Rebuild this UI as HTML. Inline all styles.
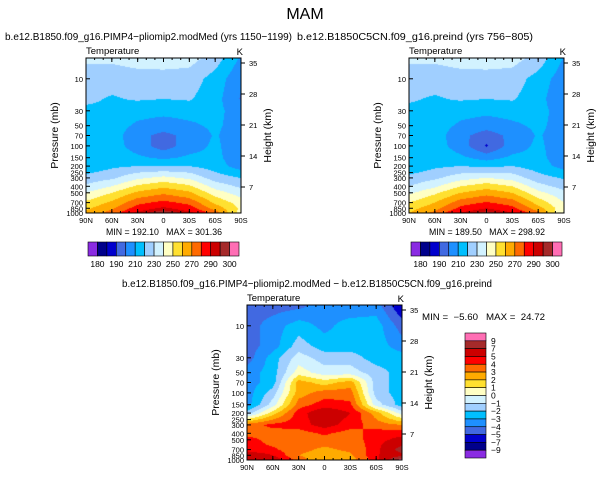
<!DOCTYPE html>
<html><head><meta charset="utf-8">
<style>
body{margin:0;background:#fff;width:611px;height:478px;overflow:hidden;position:relative;font-family:"Liberation Sans",sans-serif}
canvas{position:absolute}
svg{position:absolute;left:0;top:0}
text{white-space:pre}
</style></head>
<body>
<canvas id="c1" width="155" height="155" style="left:86px;top:58px"></canvas>
<canvas id="c2" width="155" height="155" style="left:409px;top:58px"></canvas>
<canvas id="c3" width="155" height="155" style="left:247px;top:305px"></canvas>
<svg id="s" width="611" height="478" font-family="Liberation Sans, sans-serif"></svg>
<script>
const lats = ["90N","60N","30N","0","30S","60S","90S"];
const levels = [5,10,20,30,50,70,100,150,200,300,400,500,700,850,1000];
const pTicks = [10,30,50,70,100,150,200,250,300,400,500,700,850,1000];
const hTicks = [35,28,21,14,7];
const colors = ["#8a2be2","#00008b","#0000cd","#4169e1","#1e90ff","#00bfff","#a0cfff","#d2f2ff","#ffffc4","#ffe030","#ffab00","#ff6a00","#ff0000","#cc0000","#a52a2a","#ff6eb4"];
const boundsT = [180,185,190,200,210,220,230,240,250,260,270,280,290,295,300];
const labelsT = ["180","190","210","230","250","270","290","300"];
const boundsD = [-9,-7,-5,-4,-3,-2,-1,0,1,2,3,4,5,7,9];
const labelsD = ["9","7","5","4","3","2","1","0","\u22121","\u22122","\u22123","\u22124","\u22125","\u22127","\u22129"];
// rows = levels, columns = lats
const tempA = [
[232,232,235,236,234,225,208],
[225,224,225,225,225,216,202],
[222,219,221,220,221,214,199],
[218,218,214,213,214,213,205],
[214,215,208,205,208,212,205],
[213,215,203,197,203,211,204],
[212,215,205,195,205,212,203],
[210,216,212,208,212,213,203],
[212,218,220,220,220,215,205],
[224,228,238,243,238,225,220],
[232,240,252,258,252,236,228],
[240,250,262,268,262,245,235],
[252,262,277,283,277,258,245],
[258,268,285,292,285,266,248],
[262,275,293,299,293,276,245]];
const tempB = [
[232,232,235,236,234,226,209],
[224,224,225,225,225,216,204],
[221,219,221,220,221,214,201],
[218,218,214,213,214,213,206],
[214,215,208,204,208,212,206],
[213,215,203,195,203,211,205],
[212,215,205,189,205,212,204],
[210,216,212,206,212,213,204],
[212,218,220,218,220,215,206],
[223,228,236,240,236,224,219],
[230,238,250,256,250,234,226],
[238,248,260,266,260,243,233],
[250,260,275,281,275,256,240],
[256,266,283,290,283,264,243],
[260,273,291,298,291,274,238]];
const diff = [
[-4.5,-4.5,-4.3,-3.5,-3.8,-3.5,-6],
[-4.5,-3.5,-2.5,-3.3,-2.5,-2.5,-4.5],
[-4.5,-3.5,-1.5,-2.5,-2.5,-2.5,-3.5],
[-4.5,-2.5,-0.5,-1.5,-1.5,-2.5,-2.5],
[-3.5,-2.5,0.5,-0.5,-0.5,-1.5,-2.5],
[-3.5,-2.5,2.5,1.5,2.5,-1.5,-2.5],
[-3.5,-1.5,2.5,3.5,3.5,-1.5,-2.5],
[-3.5,-0.5,3.5,4.5,4.2,-0.5,-2.5],
[-1.5,1.5,4.5,6,5,2.5,-0.5],
[3.5,4.3,4.5,5.5,4.5,3.5,3],
[3.5,3.5,3.5,4.2,3.5,4.5,4.5],
[4.5,3.5,3.5,3.5,3.5,4.5,5.5],
[4.5,4.2,3.3,2.8,3.2,4.5,8],
[6,5,3,2.5,2.8,4.8,6.5],
[6.5,6,3.5,2,2.5,4.5,10]];

const PT=4.9, BOX=155;
function yOf(p){return (Math.log10(p)-Math.log10(PT))/(3-Math.log10(PT))*BOX;}
function colorIdx(v,b){let i=0;while(i<b.length&&v>=b[i])i++;return i;}
function sample(grid,fx,py){
  const lp=Math.log10(py);
  let r=0;while(r<levels.length-2&&Math.log10(levels[r+1])<lp)r++;
  let t=(lp-Math.log10(levels[r]))/(Math.log10(levels[r+1])-Math.log10(levels[r]));
  t=Math.max(0,Math.min(1,t));
  const c=Math.min(5,Math.floor(fx)), u=fx-c;
  const a=grid[r][c]*(1-u)+grid[r][c+1]*u, b=grid[r+1][c]*(1-u)+grid[r+1][c+1]*u;
  return a*(1-t)+b*t;
}
function fill(id,grid,bounds){
  const ctx=document.getElementById(id).getContext('2d');
  for(let y=0;y<BOX;y++){
    const p=Math.pow(10,Math.log10(PT)+(y+0.5)/BOX*(3-Math.log10(PT)));
    for(let x=0;x<BOX;x++){
      const fx=(x+0.5)/BOX*6;
      ctx.fillStyle=colors[colorIdx(sample(grid,fx,p),bounds)];
      ctx.fillRect(x,y,1,1);
    }
  }
}
fill('c1',tempA,boundsT);fill('c2',tempB,boundsT);fill('c3',diff,boundsD);

const S=document.getElementById('s'),NS='http://www.w3.org/2000/svg';
function el(tag,attrs,txt){const e=document.createElementNS(NS,tag);for(const k in attrs)e.setAttribute(k,attrs[k]);if(txt!==undefined)e.textContent=txt;S.appendChild(e);return e;}
function txt(x,y,s,size,anchor,name,len){const e=el('text',{x:x,y:y,'font-size':size,'text-anchor':anchor||'start',fill:'#000'},s);
if(len){e.setAttribute('textLength',len);e.setAttribute('lengthAdjust','spacingAndGlyphs');}

return e;}

function axes(x0,y0,pfx){
  const b=el('rect',{x:x0,y:y0,width:BOX,height:BOX,fill:'none',stroke:'#000','stroke-width':1});
  
  
  lats.forEach((l,i)=>{const x=x0+i*BOX/6;
    el('line',{x1:x,y1:y0+BOX,x2:x,y2:y0+BOX-4,stroke:'#000'});
    el('line',{x1:x,y1:y0,x2:x,y2:y0+4,stroke:'#000'});
    txt(x,y0+BOX+10,l,7.5,'middle',pfx+'-x-tick-label');});
  for(let i=0;i<=18;i++){const x=x0+i*BOX/18;el('line',{x1:x,y1:y0+BOX,x2:x,y2:y0+BOX-2,stroke:'#000'});el('line',{x1:x,y1:y0,x2:x,y2:y0+2,stroke:'#000'});}
  pTicks.forEach(p=>{const y=y0+yOf(p);el('line',{x1:x0,y1:y,x2:x0+4,y2:y,stroke:'#000'});txt(x0-3,y+3,String(p),7.5,'end',pfx+'-y-tick-label');});
  hTicks.forEach((h,i)=>{const y=y0+5+i*31;el('line',{x1:x0+BOX,y1:y,x2:x0+BOX+4,y2:y,stroke:'#000'});txt(x0+BOX+8,y+3,String(h),7.5,'start',pfx+'-height-tick-label');});
  const yl=txt(0,0,'Pressure (mb)',10.5,'middle',pfx+'-y-axis-title');yl.setAttribute('transform',`translate(${x0-28},${y0+BOX/2}) rotate(-90)`);
  const hl=txt(0,0,'Height (km)',10.5,'middle',pfx+'-height-axis-title');hl.setAttribute('transform',`translate(${x0+BOX+30},${y0+BOX/2}) rotate(-90)`);
  txt(x0,y0-4,'Temperature',9.5,'start',pfx+'-variable-label');
  txt(x0+BOX+2,y0-3,'K',9.5,'end',pfx+'-units-label');
}
function hbar(x0,y0,pfx){
  const w=151/16;
  colors.forEach((c,i)=>{const r=el('rect',{x:x0+i*w,y:y0,width:w,height:14,fill:c,stroke:'#000','stroke-width':0.6});
    
    });
  labelsT.forEach((l,i)=>{txt(x0+(2*i+1)*w,y0+25,l,8.5,'middle',pfx+'-colorbar-label');});
}
txt(305,19,'MAM',16,'middle','figure-title');
txt(5,40,'b.e12.B1850.f09_g16.PIMP4\u2212pliomip2.modMed (yrs 1150\u22121199)',10.5,'start','panel1-title',287);
txt(297,40,'b.e12.B1850C5CN.f09_g16.preind (yrs 756\u2212805)',10.5,'start','panel2-title',236);
txt(307,287,'b.e12.B1850.f09_g16.PIMP4\u2212pliomip2.modMed \u2212 b.e12.B1850C5CN.f09_g16.preind',10.5,'middle','diff-title',370);
axes(86,58,'panel1');axes(409,58,'panel2');axes(247,305,'diff');
txt(164,235,'MIN = 192.10   MAX = 301.36',9,'middle','panel1-minmax',116);
txt(487,235,'MIN = 189.50   MAX = 298.92',9,'middle','panel2-minmax',116);
txt(422,320,'MIN =  \u22125.60   MAX =  24.72',9,'start','diff-minmax',123);
hbar(88,242,'panel1');hbar(411,242,'panel2');
const vh=125/16;
colors.slice().reverse().forEach((c,i)=>{const r=el('rect',{x:465,y:333+i*vh,width:21,height:vh,fill:c,stroke:'#000','stroke-width':0.6});
  
  });
labelsD.forEach((l,i)=>{txt(491,333+(i+1)*vh+3,l,8.5,'start','diff-colorbar-label');});
</script>
</body></html>
